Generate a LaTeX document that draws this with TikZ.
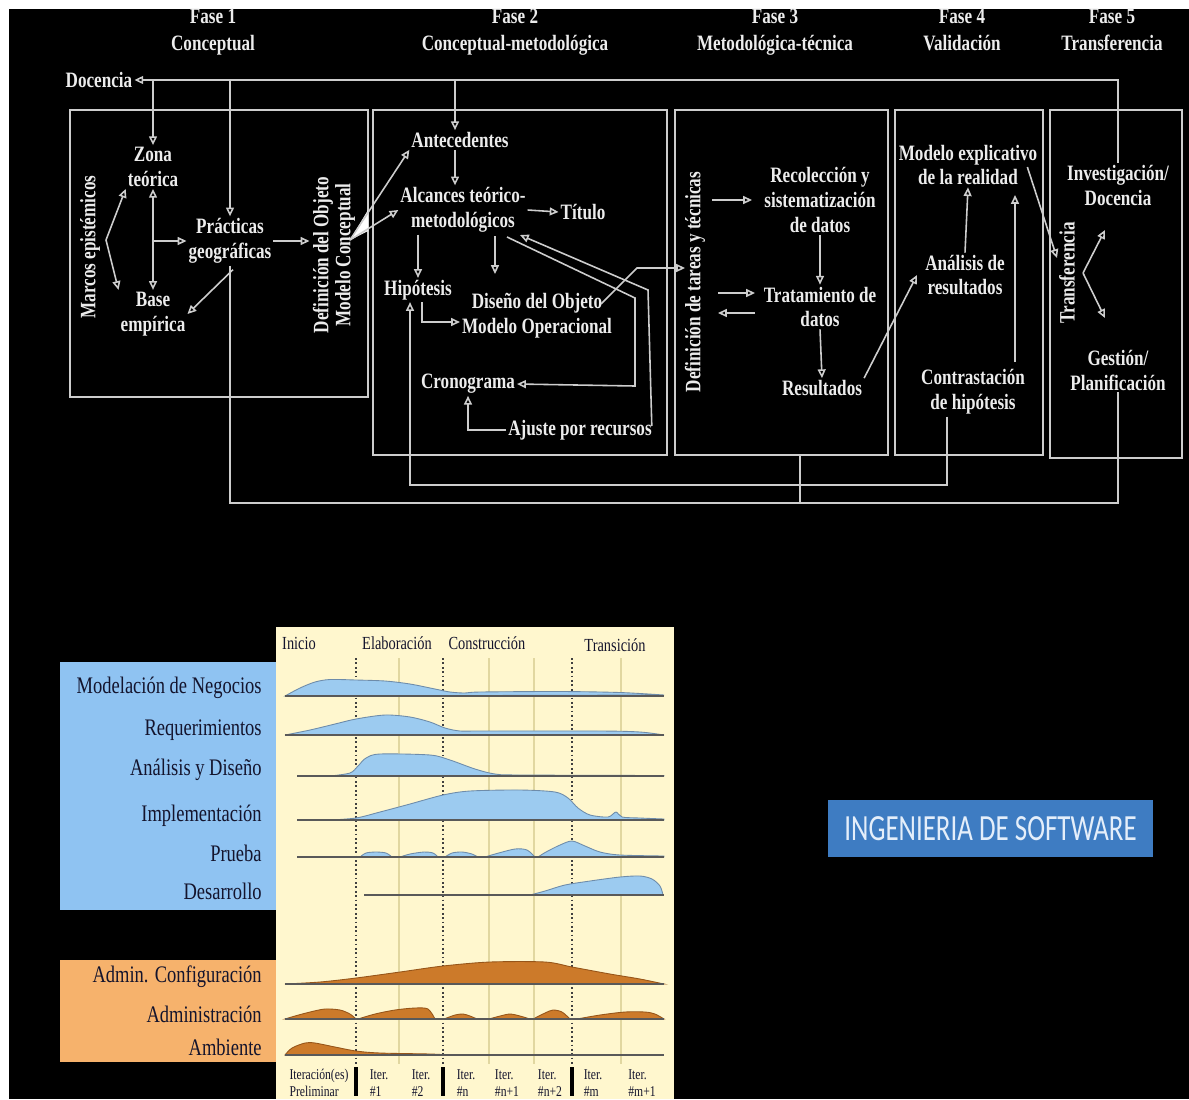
\documentclass[tikz,border=0pt]{standalone}
\usepackage{fontspec}
\setmainfont{Liberation Serif}
\newfontfamily\condserif[FakeStretch=0.78]{Liberation Serif}
\newfontfamily\condsans[FakeStretch=0.73]{Carlito}
\usetikzlibrary{arrows.meta,calc}

\definecolor{lin}{RGB}{205,205,205}
\definecolor{txtw}{RGB}{236,236,236}
\definecolor{paper}{RGB}{255,247,206}
\definecolor{bluepanel}{RGB}{143,195,242}
\definecolor{orangepanel}{RGB}{246,178,108}
\definecolor{chartblue}{RGB}{156,203,240}
\definecolor{chartblueedge}{RGB}{110,140,170}
\definecolor{chartorange}{RGB}{204,122,42}
\definecolor{chartorangeedge}{RGB}{150,85,25}
\definecolor{ink}{RGB}{20,20,45}
\definecolor{swbox}{RGB}{62,124,194}
\definecolor{swtext}{RGB}{228,238,250}
\definecolor{gridline}{RGB}{225,215,160}

\tikzset{
  diag/.style={text=txtw, font=\condserif\bfseries\fontsize{12.5}{14.2}\selectfont, align=center, inner sep=1pt},
  phase/.style={text=txtw, font=\condserif\bfseries\fontsize{12.5}{15.4}\selectfont, align=center, inner sep=1pt},
  vert/.style={diag, rotate=90, font=\condserif\bfseries\fontsize{12.5}{12.5}\selectfont},
  ln/.style={lin, line width=0.9pt},
  arr/.style={ln, -{Triangle[open,length=5pt,width=4.5pt]}},
  arrb/.style={ln, {Triangle[open,length=5pt,width=4.5pt]}-{Triangle[open,length=5pt,width=4.5pt]}},
  frame/.style={lin, line width=1.1pt},
  rowlabel/.style={anchor=east, text=ink, inner sep=0pt, font=\condserif\fontsize{13.5}{15}\selectfont},
  colhead/.style={text=ink, inner sep=0pt, font=\condserif\fontsize{10.5}{12}\selectfont},
  iterlabel/.style={text=ink, inner sep=0pt, align=left, font=\condserif\fontsize{8.5}{9.7}\selectfont},
  bfill/.style={fill=chartblue, draw=chartblueedge, line width=0.5pt},
  ofill/.style={fill=chartorange, draw=chartorangeedge, line width=0.5pt},
  baseline/.style={draw=black!65, line width=0.6pt},
  phasemark/.style={draw=black!75, line width=0.7pt, dash pattern=on 1pt off 1.5pt},
}

\begin{document}
\begin{tikzpicture}[x=0.02cm,y=-0.02cm]
\useasboundingbox (0,0) rectangle (1189,1099);
\fill[white] (0,0) rectangle (1189,1099);
\fill[black] (9,9) rectangle (1189,1099);

% ---------------- research process: phase headings
\node[phase] (f1) at (213,31.5) {Fase 1\strut\\Conceptual\strut};
\node[phase] (f2) at (515,31.5) {Fase 2\strut\\Conceptual-metodológica\strut};
\node[phase] (f3) at (775,31.5) {Fase 3\strut\\Metodológica-técnica\strut};
\node[phase] (f4) at (962,31.5) {Fase 4\strut\\Validación\strut};
\node[phase] (f5) at (1112,31.5) {Fase 5\strut\\Transferencia\strut};

% phase frames
\draw[frame] (70,110) rectangle (368,397);
\draw[frame] (373,110) rectangle (667,455);
\draw[frame] (675,110) rectangle (888,455);
\draw[frame] (895,110) rectangle (1043,455);
\draw[frame] (1050,110) rectangle (1182,458);

% phase 1
\node[diag] (doc) at (99,80) {Docencia};
\node[diag] (zona) at (153,167) {Zona\\teórica};
\node[diag] (base) at (153,314) {Base\\empírica};
\node[diag] (prac) at (230,241) {Prácticas\\geográficas};
\node[vert] (marcos) at (90,247) {Marcos epistémicos};
\node[vert] (defobj) at (334,255) {Definición del Objeto\\Modelo Conceptual};

% phase 2
\node[diag] (ant) at (460,140) {Antecedentes};
\node[diag] (alc) at (463,210) {Alcances teórico-\\metodológicos};
\node[diag] (tit) at (583,212) {Título};
\node[diag] (hip) at (418,290) {Hipótesis};
\node[diag] (dis) at (537,316) {Diseño del Objeto\\Modelo Operacional};
\node[diag] (cro) at (468,384) {Cronograma};
\node[diag] (aju) at (580,430) {Ajuste por recursos};

% phase 3
\node[vert] (deft) at (695,282) {Definición de tareas y técnicas};
\node[diag] (rec) at (820,200) {Recolección y\\sistematización\\de datos};
\node[diag] (tra) at (820,307) {Tratamiento de\\datos};
\node[diag] (res) at (822,388) {Resultados};

% phase 4
\node[diag] (mod) at (968,165) {Modelo explicativo\\de la realidad};
\node[diag] (ana) at (965,275) {Análisis de\\resultados};
\node[diag] (con) at (973,392) {Contrastación\\de hipótesis};

% phase 5
\node[vert] (transf) at (1067,273) {Transferencia};
\node[diag] (inv) at (1118,185) {Investigación/\\Docencia};
\node[diag] (ges) at (1118,370) {Gestión/\\Planificación};

% feedback from teaching back to the start
\draw[arr] (inv.north) |- (doc.east);
\draw[arr] (zona.north |- doc.east) -- (zona.north);
\draw[arr] (prac.north |- doc.east) -- (prac.north);
\draw[arr] (455,80) -- (ant.north -| 455,0);

% phase 1 links
\draw[arrb] (zona.south) -- (base.north);
\draw[arr] (zona.south |- prac.west) -- (prac.west);
\coordinate (mv) at (106,240);
\draw[arr] (mv) -- (zona.south west);
\draw[arr] (mv) -- (base.north west);
\draw[arr] ($(prac.south)+(3,4)$) -- (base.east);
\draw[arr] (prac.east) -- ++(36,0);
\coordinate (dw) at (350,240);
\fill[white] (dw) -- (368,210) -- (368,231) -- cycle;
\draw[arr] (dw) -- (ant.south west);
\draw[arr] (dw) -- (alc.west);

% phase 2 links
\draw[arr] (ant.south -| 455,0) -- (alc.north -| 455,0);
\draw[arr] (alc.east) -- (tit.west);
\draw[arr] (hip.north |- alc.south) -- (hip.north);
\draw[arr] (495,236) -- (495,274);
\draw[arr] ($(hip.south)+(4,0)$) |- ($(dis.west)+(0,6)$);
\draw[arr] ($(dis.east)+(-13,-12)$) -- (637,268) -- (685,268);
\draw[arr] (507,237) -- (635,298) -- (635,386) -- (cro.east);
\draw[arr] ($(aju.east)+(-2,-4)$) -- (648,290) -- (520,235);
\draw[arr] (aju.west) -| (cro.south);

% phase 3 links
\draw[arr] (712,200) -- (752,200);
\draw[arr] (rec.south) -- (tra.north);
\draw[arr] (718,293) -- (755,293);
\draw[arr] (755,313) -- (718,313);
\draw[arr] (tra.south) -- (res.north);
\draw[arr] (res.north east) -- (917,275);

% phase 4 links
\draw[arr] (ana.north) -- (mod.south);
\draw[arr] (1015,362) -- (1015,195);
\draw[arr] ($(mod.east)+(-12,2)$) -- (1057,258);

% phase 5 links
\coordinate (tv) at (1083,273);
\draw[arr] (tv) -- (1105,230);
\draw[arr] (tv) -- (1105,318);

% return lines along the bottom
\draw[arr] ($(con.south)+(-26,0)$) -- (947,485) -- (410,485) -- ($(hip.south)+(-8,0)$);
\draw[ln] (prac.south) -- (230,503) -- (1118,503) -- (ges.south);
\draw[ln] (800,455) -- (800,503);

% ---------------- software process chart
\fill[paper] (276,627) rectangle (674,1099);
\fill[bluepanel] (60,662) rectangle (276,910);
\fill[orangepanel] (60,960) rectangle (276,1062);

% column headings
\node[colhead] (hInicio) at (299,643) {Inicio};
\node[colhead] (hElab) at (397,643) {Elaboración};
\node[colhead] (hCons) at (487,643) {Construcción};
\node[colhead] (hTran) at (615,645) {Transición};

% iteration separators
\foreach \x in {399,489,534,621} \draw[gridline, line width=0.6pt] (\x,658) -- (\x,1064);
\foreach \x in {356,443,572} \draw[phasemark] (\x,658) -- (\x,1066);

% discipline rows
\node[rowlabel] (rModel) at (262,688) {Modelación de Negocios};
\node[rowlabel] (rReq) at (262,730) {Requerimientos};
\node[rowlabel] (rAna) at (262,770) {Análisis y Diseño};
\node[rowlabel] (rImp) at (262,816) {Implementación};
\node[rowlabel] (rPru) at (262,853) {Prueba};
\node[rowlabel] (rDes) at (262,891) {Desarrollo};
\node[rowlabel] (rConf) at (262,977) {Admin. Configuración};
\node[rowlabel] (rAdm) at (262,1014) {Administración};
\node[rowlabel] (rAmb) at (262,1047) {Ambiente};

% effort curves
\filldraw[bfill] plot[smooth,tension=0.5] coordinates {(285,696) (300,688) (315,682) (330,679.5) (356,680) (385,681) (410,684) (435,689) (450,692) (465,693) (480,692) (560,691.5) (620,692.5) (664,695)} -- cycle;
\filldraw[bfill] plot[smooth,tension=0.5] coordinates {(285,735) (310,730) (335,724) (356,719) (385,715) (410,717) (430,722) (445,728) (460,731) (480,731) (600,731) (640,732) (664,735)} -- cycle;
\filldraw[bfill] plot[smooth,tension=0.5] coordinates {(330,776) (350,773) (358,766) (366,758) (380,754) (430,755) (450,760) (475,769) (495,774) (520,775) (664,775.5)} -- (664,776) -- cycle;
\filldraw[bfill] plot[smooth,tension=0.5] coordinates {(330,820) (356,818) (380,812) (410,804) (443,795) (470,791) (520,790) (555,792) (568,798) (578,808) (590,815) (608,817) (616,812) (622,817) (640,818) (664,819)} -- (664,820) -- cycle;
\filldraw[bfill] plot[smooth,tension=0.5] coordinates {(360,857) (366,853) (376,852) (386,853) (392,857)} -- cycle;
\filldraw[bfill] plot[smooth,tension=0.5] coordinates {(400,857) (410,854) (424,852) (433,853) (438,857)} -- cycle;
\filldraw[bfill] plot[smooth,tension=0.5] coordinates {(445,857) (452,853) (462,852) (472,854) (478,857)} -- cycle;
\filldraw[bfill] plot[smooth,tension=0.5] coordinates {(485,857) (495,854) (515,849) (527,850) (535,857)} -- cycle;
\filldraw[bfill] plot[smooth,tension=0.5] coordinates {(538,857) (546,852) (560,845) (572,841) (585,846) (600,852) (620,855) (664,856)} -- (664,857) -- cycle;
\filldraw[bfill] plot[smooth,tension=0.5] coordinates {(530,895) (545,891) (565,885) (590,881) (620,877) (640,876) (652,879) (660,886) (663,895)} -- cycle;

\filldraw[ofill] plot[smooth,tension=0.5] coordinates {(285,984) (320,982) (356,978) (400,972) (443,966) (490,962) (545,962) (572,967) (610,974) (640,979) (664,984)} -- cycle;
\filldraw[ofill] plot[smooth,tension=0.5] coordinates {(285,1019) (295,1016) (310,1012) (325,1009) (340,1010) (350,1014) (356,1019)} -- cycle;
\filldraw[ofill] plot[smooth,tension=0.5] coordinates {(358,1019) (375,1014) (395,1010) (415,1008) (428,1009) (435,1019)} -- cycle;
\filldraw[ofill] plot[smooth,tension=0.5] coordinates {(444,1019) (455,1015) (463,1014) (470,1016) (477,1019)} -- cycle;
\filldraw[ofill] plot[smooth,tension=0.5] coordinates {(489,1019) (500,1016) (510,1014) (520,1016) (530,1019)} -- cycle;
\filldraw[ofill] plot[smooth,tension=0.5] coordinates {(533,1019) (545,1013) (553,1010) (562,1012) (570,1019)} -- cycle;
\filldraw[ofill] plot[smooth,tension=0.5] coordinates {(577,1019) (600,1015) (625,1012) (645,1012) (655,1014) (664,1019)} -- cycle;
\filldraw[ofill] plot[smooth,tension=0.5] coordinates {(285,1055) (292,1048) (305,1043) (315,1043) (335,1047) (356,1051) (380,1053) (430,1054) (450,1055)} -- cycle;

% row baselines
\draw[baseline] (285,696) -- (664,696);
\draw[baseline] (285,735) -- (664,735);
\draw[baseline] (297,776) -- (664,776);
\draw[baseline] (297,820) -- (664,820);
\draw[baseline] (297,857) -- (664,857);
\draw[baseline] (364,895) -- (664,895);
\draw[baseline] (285,984) -- (664,984);
\draw[baseline] (285,1019) -- (664,1019);
\draw[baseline] (285,1055) -- (664,1055);

% iteration labels
\node[iterlabel] (iPre) at (319,1083) {Iteración(es)\\Preliminar};
\node[iterlabel] (i1) at (379,1083) {Iter.\\\#1};
\node[iterlabel] (i2) at (421,1083) {Iter.\\\#2};
\node[iterlabel] (in) at (466,1083) {Iter.\\\#n};
\node[iterlabel] (in1) at (507,1083) {Iter.\\\#n+1};
\node[iterlabel] (in2) at (550,1083) {Iter.\\\#n+2};
\node[iterlabel] (im) at (593,1083) {Iter.\\\#m};
\node[iterlabel] (im1) at (642,1083) {Iter.\\\#m+1};
\foreach \x in {356,443,572} \draw[black, line width=2pt] (\x,1067) -- (\x,1096);

% title box
\node[fill=swbox, text=swtext, minimum width=325*0.02cm, minimum height=57*0.02cm, inner sep=0pt,
      font=\condsans\fontsize{21}{24}\selectfont] (sw) at (990.5,828.5) {INGENIERIA DE SOFTWARE};
\end{tikzpicture}
\end{document}
